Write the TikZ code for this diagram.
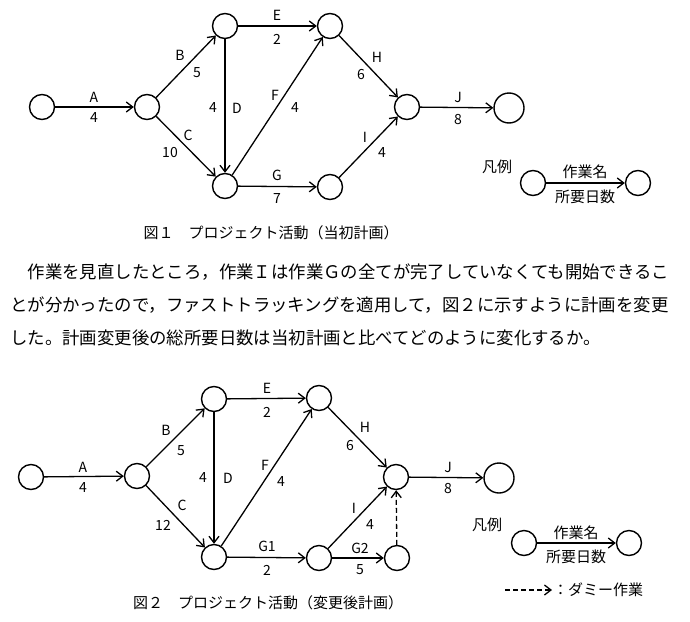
\documentclass[tikz,border=0pt]{standalone}
\usepackage{fontspec}
\setmainfont{Noto Sans CJK JP}
\usetikzlibrary{arrows.meta}
\tikzset{
  ev/.style={circle,draw,line width=1.4pt,minimum size=25pt,inner sep=0pt},
  evend/.style={ev,minimum size=30pt},
  act/.style={line width=1.3pt,-{Straight Barb[length=6.5pt,width=10pt]}},
  dummy/.style={act,dash pattern=on 5pt off 3pt},
  lbl/.style={font=\fontsize{14}{14}\selectfont,inner sep=0pt},
  jp/.style={font=\fontsize{15}{15}\selectfont,inner sep=0pt},
  para/.style={font=\fontsize{17.4}{17.4}\selectfont,inner sep=0pt,anchor=west},
}
\begin{document}
\begin{tikzpicture}[x=1pt,y=-1pt]
\useasboundingbox (0,0) rectangle (690,621);
% ---------- Figure 1 ----------
\node[ev] (a1) at (42,107) {};
\node[ev] (a2) at (147,107) {};
\node[ev] (a3) at (225,26) {};
\node[ev] (a4) at (225,186) {};
\node[ev] (a5) at (330,26) {};
\node[ev] (a6) at (330,187) {};
\node[ev] (a7) at (407,107) {};
\node[evend] (a8) at (509,108) {};
\draw[act] (a1) -- (a2);
\draw[act] (a2) -- (a3);
\draw[act] (a2) -- (a4);
\draw[act] (a3) -- (a4);
\draw[act] (a3) -- (a5);
\draw[act] (a4) -- (a5);
\draw[act] (a4) -- (a6);
\draw[act] (a5) -- (a7);
\draw[act] (a6) -- (a7);
\draw[act] (a7) -- (a8);
\node[lbl] (tA) at (94,97) {A};   \node[lbl] (tA2) at (94,118) {4};
\node[lbl] (tB) at (180,55) {B};  \node[lbl] (tB2) at (197,73) {5};
\node[lbl] (tC) at (188,135) {C}; \node[lbl] (tC2) at (170,153) {10};
\node[lbl] (tD2) at (213,108) {4};\node[lbl] (tD) at (237,108) {D};
\node[lbl] (tE) at (277,15) {E};  \node[lbl] (tE2) at (277,39) {2};
\node[lbl] (tF) at (275,95) {F};  \node[lbl] (tF2) at (295,108) {4};
\node[lbl] (tG) at (277,175) {G}; \node[lbl] (tG2) at (277,199) {7};
\node[lbl] (tH) at (377,57) {H};  \node[lbl] (tH2) at (361,75) {6};
\node[lbl] (tI) at (365,137) {I}; \node[lbl] (tI2) at (382,153) {4};
\node[lbl] (tJ) at (458,97) {J};  \node[lbl] (tJ2) at (458,120) {8};
% legend 1
\node[jp] (leg1) at (497,167) {凡例};
\node[ev] (l1a) at (533,183) {};
\node[ev] (l1b) at (638,183) {};
\draw[act] (l1a) -- (l1b);
\node[jp] (l1n) at (585,172) {作業名};
\node[jp] (l1d) at (585,197) {所要日数};
\node[jp] (cap1) at (271,233) {図１　プロジェクト活動（当初計画）};
% ---------- paragraph ----------
\node[para] (p1) at (10,272) {　作業を見直したところ，作業Ｉは作業Ｇの全てが完了していなくても開始できるこ};
\node[para] (p2) at (10,305) {とが分かったので，ファストトラッキングを適用して，図２に示すように計画を変更};
\node[para] (p3) at (10,338) {した。計画変更後の総所要日数は当初計画と比べてどのように変化するか。};
% ---------- Figure 2 ----------
\node[ev] (b1) at (31,477) {};
\node[ev] (b2) at (137,476) {};
\node[ev] (b3) at (214,399) {};
\node[ev] (b4) at (214,557) {};
\node[ev] (b5) at (319,398) {};
\node[ev] (b6) at (319,558) {};
\node[ev] (b7) at (396,477) {};
\node[evend] (b8) at (499,478) {};
\node[ev] (b9) at (397,558) {};
\draw[act] (b1) -- (b2);
\draw[act] (b2) -- (b3);
\draw[act] (b2) -- (b4);
\draw[act] (b3) -- (b4);
\draw[act] (b3) -- (b5);
\draw[act] (b4) -- (b5);
\draw[act] (b4) -- (b6);
\draw[act] (b5) -- (b7);
\draw[act] (b6) -- (b7);
\draw[act] (b6) -- (b9);
\draw[dummy] (b9) -- (b7);
\draw[act] (b7) -- (b8);
\node[lbl] (uA) at (83,467) {A};   \node[lbl] (uA2) at (83,488) {4};
\node[lbl] (uB) at (166,430) {B};  \node[lbl] (uB2) at (181,451) {5};
\node[lbl] (uC) at (182,505) {C};  \node[lbl] (uC2) at (163,525) {12};
\node[lbl] (uD2) at (203,478) {4}; \node[lbl] (uD) at (228,478) {D};
\node[lbl] (uE) at (267,388) {E};  \node[lbl] (uE2) at (267,412) {2};
\node[lbl] (uF) at (265,465) {F};  \node[lbl] (uF2) at (281,482) {4};
\node[lbl] (uG) at (267,546) {G1}; \node[lbl] (uG2) at (267,570) {2};
\node[lbl] (uH) at (365,427) {H};  \node[lbl] (uH2) at (350,446) {6};
\node[lbl] (uI) at (354,508) {I};  \node[lbl] (uI2) at (370,525) {4};
\node[lbl] (uK) at (360,548) {G2}; \node[lbl] (uK2) at (360,570) {5};
\node[lbl] (uJ) at (448,467) {J};  \node[lbl] (uJ2) at (448,489) {8};
% legend 2
\node[jp] (leg2) at (487,525) {凡例};
\node[ev] (l2a) at (524,543) {};
\node[ev] (l2b) at (629,543) {};
\draw[act] (l2a) -- (l2b);
\node[jp] (l2n) at (576,533) {作業名};
\node[jp] (l2d) at (576,557) {所要日数};
\coordinate (dA) at (505,590);
\coordinate (dB) at (552,590);
\draw[dummy] (dA) -- (dB);
\node[jp,anchor=west] (dtxt) at (553,590) {：ダミー作業};
\node[jp] (cap2) at (268,603) {図２　プロジェクト活動（変更後計画）};
\end{tikzpicture}
\end{document}
